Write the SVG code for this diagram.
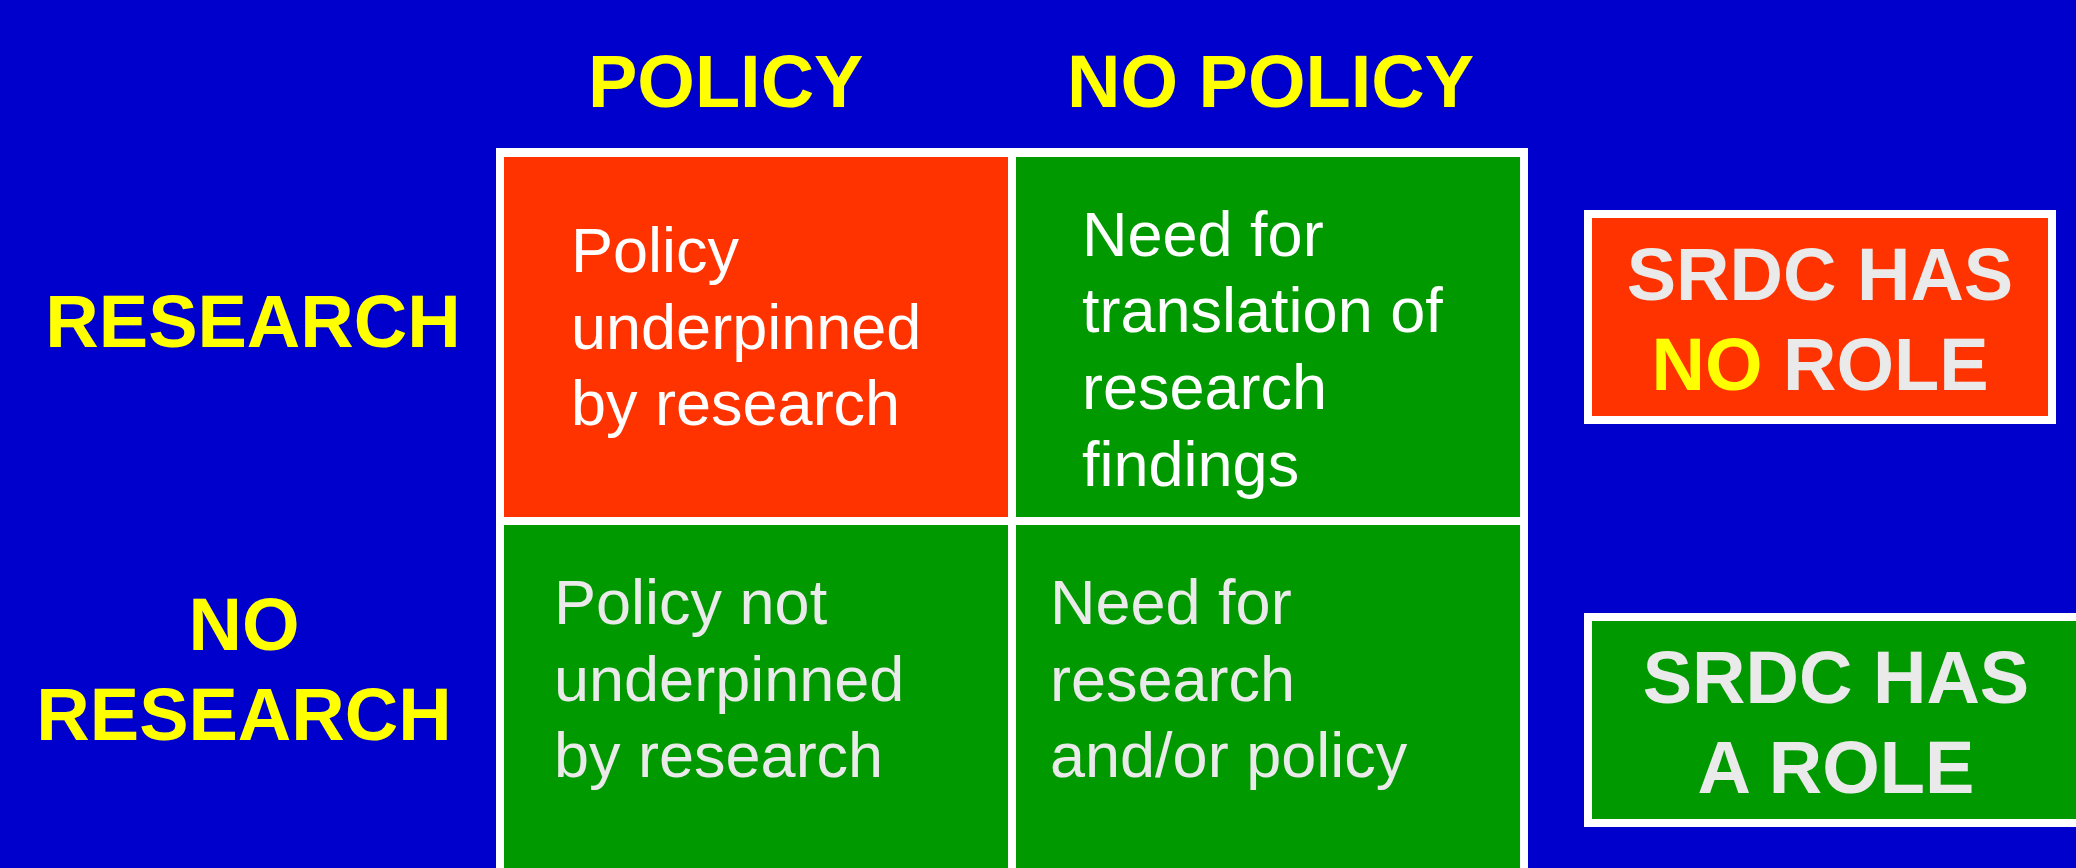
<svg xmlns="http://www.w3.org/2000/svg" width="2076" height="868" viewBox="0 0 2076 868">
<style>
.hdr{font-family:"Liberation Sans",Arial,sans-serif;font-weight:bold;font-size:74px;fill:#FFFF00}
.cell{font-family:"Liberation Sans",Arial,sans-serif;font-size:63px}
.box{font-family:"Liberation Sans",Arial,sans-serif;font-weight:bold;font-size:74px;fill:#EAEAEA;text-anchor:middle}
.red{fill:#FF3300}
.green{fill:#009900}
.frame{fill:#FFFFFF}
</style>
<rect x="0" y="0" width="2076" height="868" fill="#0000CC"/>
<g id="col-policy"><text class="hdr" x="588" y="107">POLICY</text></g>
<g id="col-no-policy"><text class="hdr" x="1067" y="107">NO POLICY</text></g>
<g id="row-research"><text class="hdr" x="253" y="347" text-anchor="middle">RESEARCH</text></g>
<g id="row-no-research"><text class="hdr" text-anchor="middle"><tspan x="244" y="650">NO</tspan><tspan x="244" y="740">RESEARCH</tspan></text></g>
<g id="grid">
<rect class="frame" x="496" y="148" width="1032" height="740"/>
</g>
<g id="cell-policy-research">
<rect class="red" x="504" y="157" width="504" height="360"/>
<text class="cell" fill="#FFFFFF"><tspan x="571" y="272">Policy</tspan><tspan x="571" y="349">underpinned</tspan><tspan x="571" y="425">by research</tspan></text>
</g>
<g id="cell-nopolicy-research">
<rect class="green" x="1016" y="157" width="504" height="360"/>
<text class="cell" fill="#FFFFFF"><tspan x="1082" y="256">Need for</tspan><tspan x="1082" y="332">translation of</tspan><tspan x="1082" y="409">research</tspan><tspan x="1082" y="486">findings</tspan></text>
</g>
<g id="cell-policy-noresearch">
<rect class="green" x="504" y="525" width="504" height="363"/>
<text class="cell" fill="#EAEAEA"><tspan x="554" y="624">Policy not</tspan><tspan x="554" y="701">underpinned</tspan><tspan x="554" y="777">by research</tspan></text>
</g>
<g id="cell-nopolicy-noresearch">
<rect class="green" x="1016" y="525" width="504" height="363"/>
<text class="cell" fill="#EAEAEA"><tspan x="1050" y="624">Need for</tspan><tspan x="1050" y="701">research</tspan><tspan x="1050" y="777">and/or policy</tspan></text>
</g>
<g id="srdc-no-role">
<rect class="frame" x="1584" y="210" width="472" height="214"/>
<rect class="red" x="1592" y="218" width="456" height="198"/>
<text class="box"><tspan x="1820" y="300">SRDC HAS</tspan><tspan x="1820" y="390"><tspan fill="#FFFF00">NO</tspan> ROLE</tspan></text>
</g>
<g id="srdc-a-role">
<rect class="frame" x="1584" y="613" width="504" height="214"/>
<rect class="green" x="1592" y="621" width="488" height="198"/>
<text class="box"><tspan x="1836" y="703">SRDC HAS</tspan><tspan x="1836" y="793">A ROLE</tspan></text>
</g>
</svg>
